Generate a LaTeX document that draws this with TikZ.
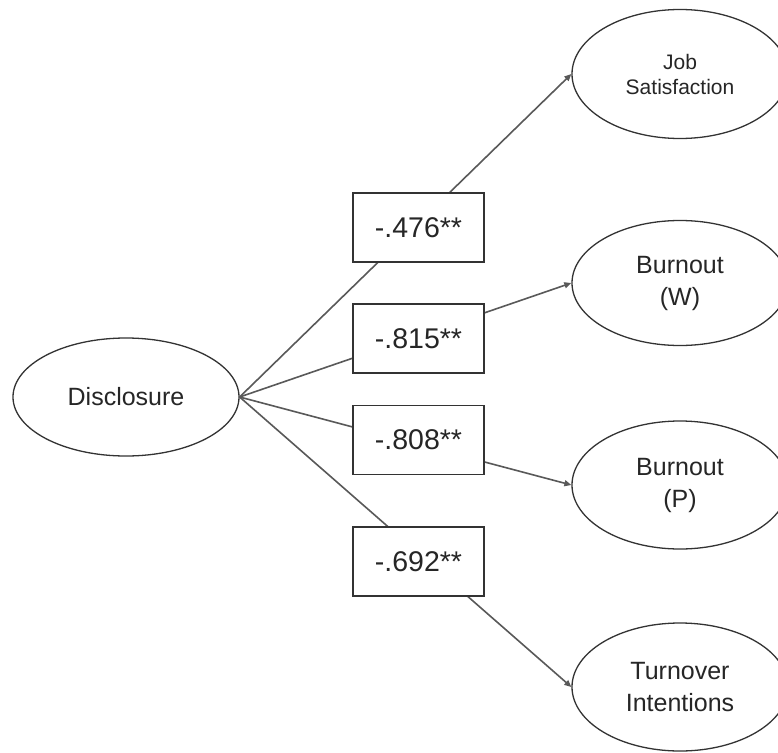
\documentclass[tikz,border=0pt]{standalone}
\usepackage{fontspec}
\setmainfont{Liberation Sans}
\usetikzlibrary{shapes.geometric,arrows.meta}
\begin{document}
\begin{tikzpicture}[x=1pt,y=-1pt,
  oval/.style={ellipse,draw=black!80,line width=1.3pt,fill=white,inner sep=0pt,align=center,
    font=\fontsize{25}{32}\selectfont,text=black!85},
  coef/.style={rectangle,draw=black!80,line width=1.3pt,fill=white,minimum width=131pt,
    minimum height=69pt,inner sep=0pt,font=\fontsize{28.5}{34}\selectfont,text=black!85},
  link/.style={draw=black!65,line width=1.6pt,-{Triangle[length=7pt,width=6pt]}}]
\useasboundingbox (0,0) rectangle (778,752);
\fill[white] (0,0) rectangle (778,752);
\node[oval,minimum width=226pt,minimum height=118pt] (disc) at (126,397) {Disclosure};
\node[oval,minimum width=216pt,minimum height=129pt,font=\fontsize{21}{25}\selectfont] (job) at (680,74) {Job\\Satisfaction};
\node[oval,minimum width=216pt,minimum height=125pt] (bw) at (680,283) {Burnout\\(W)};
\node[oval,minimum width=216pt,minimum height=128pt] (bp) at (680,485) {Burnout\\(P)};
\node[oval,minimum width=216pt,minimum height=128pt] (ti) at (680,687) {Turnover\\Intentions};
\draw[link] (disc.east) -- (job.west);
\draw[link] (disc.east) -- (bw.west);
\draw[link] (disc.east) -- (bp.west);
\draw[link] (disc.east) -- (ti.west);
\node[coef] (c1) at (418.5,227.5) {-.476**};
\node[coef] (c2) at (418.5,338.5) {-.815**};
\node[coef] (c3) at (418.5,440) {-.808**};
\node[coef] (c4) at (418.5,561.5) {-.692**};
\end{tikzpicture}
\end{document}
